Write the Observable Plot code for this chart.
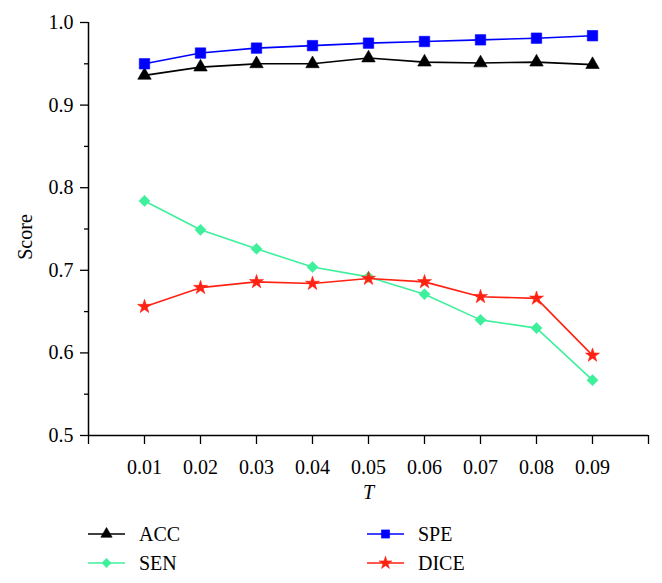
<!DOCTYPE html>
<html><head><meta charset="utf-8">
<script src="https://cdn.jsdelivr.net/npm/d3@7"></script>
<script src="https://cdn.jsdelivr.net/npm/@observablehq/plot@0.6"></script>
<style>
body{margin:0;background:#fff;}
#wrap{position:relative;width:662px;height:583px;font-family:"Liberation Serif","DejaVu Serif",serif;background:#fff;overflow:hidden;}
#chart{position:absolute;left:0;top:0;}
.leg{position:absolute;display:flex;align-items:center;font-size:20px;height:24px;color:#000;white-space:nowrap;}
.leg svg{display:block;margin-right:13px;}
#ytitle{position:absolute;left:25px;top:237px;font-size:20px;line-height:20px;white-space:nowrap;transform:translate(-50%,-50%) rotate(-90deg);}
</style></head><body><div id="wrap"><div id="chart"></div></div>
<script>
// ---- data ----
const T = [0.01, 0.02, 0.03, 0.04, 0.05, 0.06, 0.07, 0.08, 0.09];
const seriesNames = ["ACC", "SPE", "SEN", "DICE"];
const ACC  = [0.936, 0.946, 0.950, 0.950, 0.957, 0.952, 0.951, 0.952, 0.949];
const SPE  = [0.950, 0.963, 0.969, 0.972, 0.975, 0.977, 0.979, 0.981, 0.984];
const SEN  = [0.784, 0.749, 0.726, 0.704, 0.692, 0.671, 0.640, 0.630, 0.567];
const DICE = [0.656, 0.679, 0.686, 0.684, 0.690, 0.686, 0.668, 0.666, 0.597];
const yTicks = [0.5, 0.6, 0.7, 0.8, 0.9, 1.0];
const yMinor = [0.55, 0.65, 0.75, 0.85, 0.95];
const xTicks = [0, 0.01, 0.02, 0.03, 0.04, 0.05, 0.06, 0.07, 0.08, 0.09, 0.10];
const xLabels = ["", "0.01", "0.02", "0.03", "0.04", "0.05", "0.06", "0.07", "0.08", "0.09", ""];
const xTitle = "T";
const yTitle = "Score";

// ---- styles ----
const colors = ["#000000", "#0000ff", "#3ef09c", "#ff2212"];
const symbols = ["triangle", "square", "diamond2", "star"];
const radii = {ACC: 5.0, SPE: 5.9, SEN: 5.0, DICE: 4.4};
const FONT = '"Liberation Serif", "DejaVu Serif", serif';

const values = [ACC, SPE, SEN, DICE];
const rows = seriesNames.flatMap((s, i) => T.map((t, j) => ({series: s, t, v: values[i][j]})));

const marks = [
  Plot.axisY({ticks: yMinor, tickSize: 4, tickFormat: () => "", label: null, strokeWidth: 1.3}),
  Plot.axisY({ticks: yTicks, tickSize: 8, tickPadding: 7, tickFormat: d3.format(".1f"), strokeWidth: 1.3, label: null}),
  Plot.axisX({ticks: xTicks, tickSize: 9, tickPadding: 15, tickFormat: d => xLabels[Math.round(d * 100)],
              label: null, strokeWidth: 1.3}),
  Plot.ruleX([0], {strokeWidth: 1.5}),
  Plot.ruleY([0.5], {strokeWidth: 1.5}),
  Plot.text([xTitle], {frameAnchor: "bottom", lineAnchor: "middle", dy: 57, fontStyle: "italic", fontSize: 20, fontFamily: FONT})
];
for (const s of seriesNames) {
  const d = rows.filter(r => r.series === s);
  marks.push(Plot.line(d, {x: "t", y: "v", stroke: "series", strokeWidth: 1.6}));
  marks.push(Plot.dot(d, {x: "t", y: "v", symbol: "series", fill: "series", stroke: "series", strokeWidth: 0.6, r: radii[s]}));
}

const chart = Plot.plot({
  width: 662, height: 510,
  marginLeft: 88, marginRight: 14, marginTop: 22, marginBottom: 75,
  style: {fontFamily: FONT, fontSize: "20px", background: "#fff", color: "#000", overflow: "visible"},
  x: {domain: [0, 0.1]},
  y: {domain: [0.5, 1.0]},
  color: {domain: seriesNames, range: colors},
  symbol: {domain: seriesNames, range: symbols},
  marks
});
const wrap = document.getElementById("wrap");
document.getElementById("chart").appendChild(chart);

// ---- y title ----
const yt = document.createElement("div");
yt.id = "ytitle";
yt.textContent = yTitle;
wrap.appendChild(yt);

// ---- legend (below the SVG) ----
const legPos = [[88, 534], [367, 534], [88, 563], [367, 563]];
const legOrder = ["ACC", "SPE", "SEN", "DICE"];
const symMap = {triangle: d3.symbolTriangle, square: d3.symbolSquare, diamond2: d3.symbolDiamond2, star: d3.symbolStar};
const legR = {ACC: 4.2, SPE: 4.6, SEN: 4.2, DICE: 4.0};
legOrder.forEach((s, k) => {
  const i = seriesNames.indexOf(s);
  const div = document.createElement("div");
  div.className = "leg";
  div.style.left = legPos[k][0] + "px";
  div.style.top = (legPos[k][1] - 12) + "px";
  const path = d3.symbol(symMap[symbols[i]], Math.PI * legR[s] * legR[s])();
  div.innerHTML = `<svg width="38" height="16" viewBox="0 0 38 16"><line x1="0" x2="37" y1="8" y2="8" stroke="${colors[i]}" stroke-width="1.6"/><path d="${path}" transform="translate(18.5,8)" fill="${colors[i]}" stroke="${colors[i]}" stroke-width="0.6"/></svg><span>${s}</span>`;
  wrap.appendChild(div);
});
</script></body></html>
